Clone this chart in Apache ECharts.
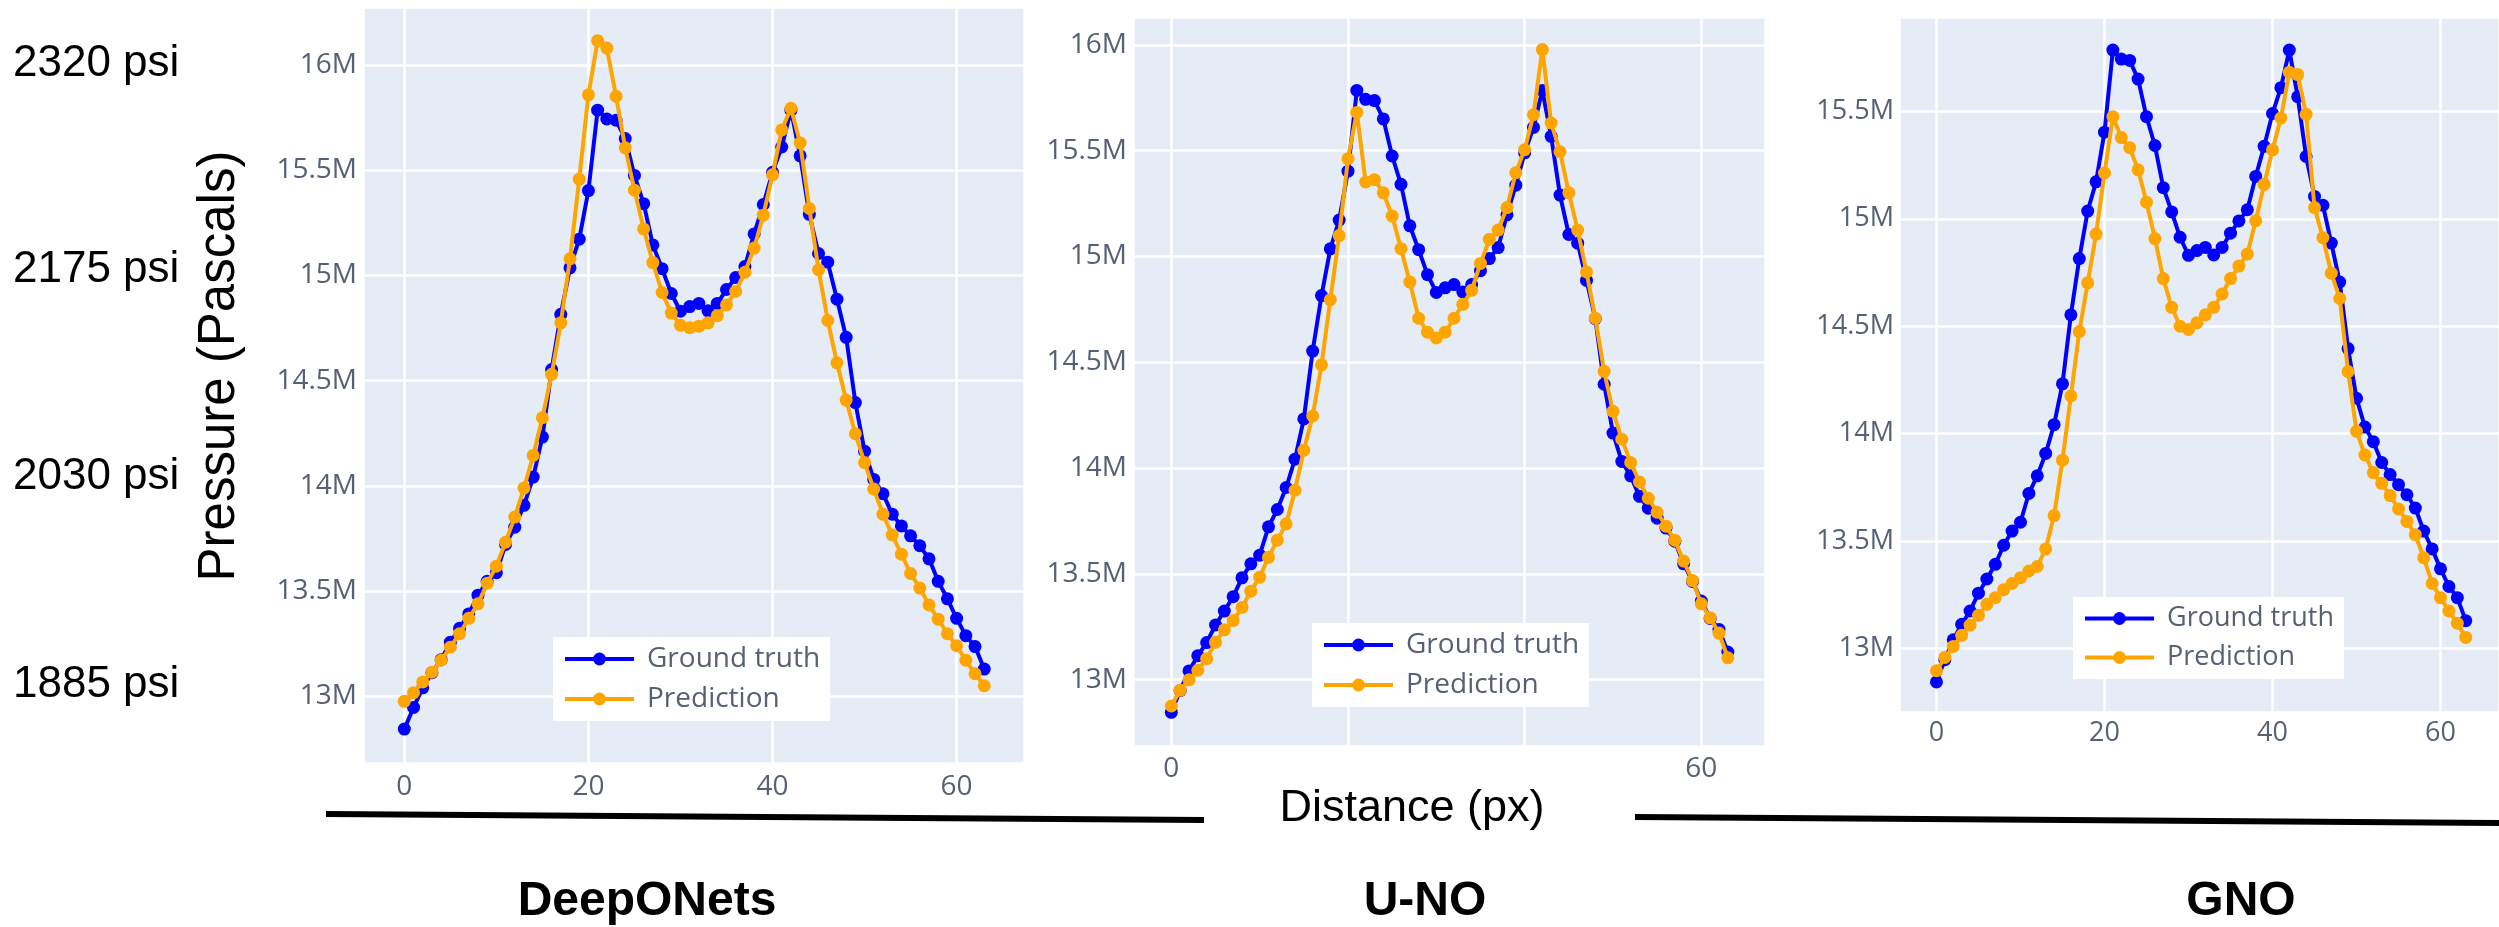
<!DOCTYPE html>
<html><head><meta charset="utf-8">
<script src="https://cdn.jsdelivr.net/npm/echarts@6/dist/echarts.min.js"></script>
<style>html,body{margin:0;padding:0;background:#fff}#c{width:2499px;height:927px}</style>
</head><body><div id="c"></div>
<script>
// ---- data (pressure in millions of Pascals) ----
const distance = [0,1,2,3,4,5,6,7,8,9,10,11,12,13,14,15,16,17,18,19,20,21,22,23,24,25,26,27,28,29,30,31,32,33,34,35,36,37,38,39,40,41,42,43,44,45,46,47,48,49,50,51,52,53,54,55,56,57,58,59,60,61,62,63];
const groundTruth = [12.845,12.948,13.041,13.113,13.175,13.258,13.324,13.392,13.481,13.547,13.588,13.722,13.804,13.908,14.042,14.232,14.553,14.815,15.036,15.172,15.403,15.785,15.743,15.737,15.65,15.475,15.341,15.145,15.032,14.914,14.83,14.852,14.867,14.832,14.867,14.933,14.99,15.042,15.197,15.337,15.49,15.61,15.785,15.568,15.29,15.104,15.063,14.887,14.706,14.396,14.165,14.031,13.963,13.866,13.81,13.763,13.716,13.654,13.547,13.464,13.371,13.289,13.237,13.13];
const predDeepONets = [12.977,13.018,13.069,13.115,13.172,13.234,13.298,13.371,13.44,13.538,13.619,13.733,13.852,13.99,14.145,14.324,14.53,14.775,15.079,15.457,15.858,16.115,16.08,15.851,15.606,15.405,15.221,15.061,14.919,14.821,14.763,14.752,14.759,14.775,14.809,14.86,14.924,15.015,15.13,15.286,15.478,15.691,15.794,15.629,15.318,15.027,14.786,14.585,14.408,14.248,14.111,13.985,13.866,13.767,13.676,13.584,13.515,13.435,13.367,13.298,13.241,13.172,13.108,13.051];
const predUNO = [12.875,12.949,12.999,13.044,13.099,13.176,13.235,13.279,13.341,13.418,13.484,13.578,13.659,13.736,13.895,14.084,14.246,14.488,14.796,15.099,15.462,15.681,15.352,15.363,15.301,15.191,15.037,14.879,14.708,14.642,14.615,14.642,14.708,14.774,14.84,14.967,15.081,15.125,15.231,15.396,15.505,15.67,15.978,15.631,15.495,15.301,15.125,14.927,14.708,14.457,14.268,14.136,14.026,13.934,13.857,13.791,13.725,13.659,13.56,13.468,13.358,13.292,13.22,13.103];
const predGNO = [12.897,12.959,13.01,13.062,13.109,13.155,13.206,13.237,13.274,13.303,13.33,13.361,13.382,13.464,13.619,13.877,14.176,14.475,14.702,14.929,15.213,15.475,15.378,15.331,15.228,15.077,14.908,14.722,14.588,14.5,14.485,14.516,14.553,14.588,14.65,14.722,14.78,14.836,14.991,15.16,15.321,15.469,15.682,15.671,15.486,15.052,14.912,14.747,14.629,14.289,14.011,13.901,13.819,13.769,13.712,13.65,13.592,13.53,13.423,13.303,13.237,13.175,13.118,13.052];
const panelTitles = ['DeepONets', 'U-NO', 'GNO'];
const seriesNames = ['Ground truth', 'Prediction'];
const xTickLabels = [[0,20,40,60],[0,60],[0,20,40,60]];
const psiLabels = ['2320 psi', '2175 psi', '2030 psi', '1885 psi'];
const yAxisTitle = 'Pressure (Pascals)';
const xAxisTitle = 'Distance (px)';

// ---- layout ----
const predictions = [predDeepONets, predUNO, predGNO];
const panels = [
  {left:363, top:7, width:661, height:756, xmin:-4.49, xmax:67.32, ymin:12.684, ymax:16.275, fs:28, lg:{left:553, top:637}, titleX:647, ym:6, xm:10},
  {left:1133, top:17, width:632, height:729, xmin:-4.34, xmax:67.21, ymin:12.686, ymax:16.132, fs:28, lg:{left:1312, top:623}, titleX:1425, ym:6, xm:9},
  {left:1899, top:17, width:600, height:695, xmin:-4.46, xmax:66.96, ymin:12.705, ymax:15.939, fs:27, lg:{left:2073, top:597}, titleX:2241, ym:5, xm:8}
];
const BLUE = '#0000ff', ORANGE = '#ffa500', LABEL = '#566176';

const grid = [], xAxis = [], yAxis = [], series = [], legend = [];
panels.forEach((p, k) => {
  grid.push({left:p.left, top:p.top, width:p.width, height:p.height, show:true,
    backgroundColor:'#e5ecf6', borderWidth:0, containLabel:false, outerBoundsMode:'none'});
  xAxis.push({type:'value', gridIndex:k, min:p.xmin, max:p.xmax, minInterval:20, maxInterval:20, splitNumber:3,
    axisLine:{show:false}, axisTick:{show:false},
    splitLine:{show:true, lineStyle:{color:'#ffffff', width:2.5}},
    axisLabel:{show:true, margin:p.xm, color:LABEL, fontFamily:'Open Sans', fontSize:p.fs,
      showMinLabel:false, showMaxLabel:false,
      formatter:v => xTickLabels[k].some(t => Math.abs(t - v) < 1e-6) ? String(Math.round(v)) : ''}});
  yAxis.push({type:'value', gridIndex:k, min:p.ymin, max:p.ymax, minInterval:0.5, maxInterval:0.5, splitNumber:7,
    axisLine:{show:false}, axisTick:{show:false},
    splitLine:{show:true, lineStyle:{color:'#ffffff', width:2.5}},
    axisLabel:{show:true, margin:p.ym, color:LABEL, fontFamily:'Open Sans', fontSize:p.fs,
      showMinLabel:false, showMaxLabel:false,
      formatter:v => Math.abs(v*2 - Math.round(v*2)) < 1e-6 ? (Math.round(v*10)/10) + 'M' : ''}});
  [groundTruth, predictions[k]].forEach((arr, j) => {
    series.push({name:seriesNames[j], type:'line', xAxisIndex:k, yAxisIndex:k,
      data: distance.map((d, i) => [d, arr[i]]),
      symbol:'circle', symbolSize:13, showSymbol:true,
      lineStyle:{width:4, color: j ? ORANGE : BLUE},
      itemStyle:{color: j ? ORANGE : BLUE},
      emphasis:{disabled:true}, animation:false, z: 2 + j});
  });
  legend.push({data:seriesNames, orient:'vertical', left:p.lg.left, top:p.lg.top,
    backgroundColor:'#ffffff', padding:[8,10,8,10], itemWidth:69, itemHeight:16, itemGap:12,
    selectedMode:false, lineStyle:{width:4},
    textStyle:{fontFamily:'Open Sans', fontSize:p.fs, color:LABEL, padding:[0,0,0,8]}});
});

const graphic = [];
const psiY = [64, 270, 477, 685];
psiLabels.forEach((t, i) => graphic.push({type:'text', x:13, y:psiY[i],
  style:{text:t, font:"44px 'Liberation Sans', Arial, sans-serif", fill:'#000', align:'left', verticalAlign:'middle'}}));
graphic.push({type:'text', x:220, y:366, rotation:Math.PI/2,
  style:{text:yAxisTitle, font:"51px 'Liberation Sans', Arial, sans-serif", fill:'#000', align:'center', verticalAlign:'middle'}});
graphic.push({type:'line', shape:{x1:326, y1:814, x2:1204, y2:820}, style:{stroke:'#000', lineWidth:6}});
graphic.push({type:'line', shape:{x1:1635, y1:817, x2:2499, y2:823}, style:{stroke:'#000', lineWidth:6}});
graphic.push({type:'text', x:1412, y:809,
  style:{text:xAxisTitle, font:"45px 'Liberation Sans', Arial, sans-serif", fill:'#000', align:'center', verticalAlign:'middle'}});
panelTitles.forEach((t, k) => graphic.push({type:'text', x:panels[k].titleX, y:902,
  style:{text:t, font:"bold 48px 'Liberation Sans', Arial, sans-serif", fill:'#000', align:'center', verticalAlign:'middle'}}));

const chart = echarts.init(document.getElementById('c'), null, {renderer:'canvas'});
chart.setOption({animation:false, backgroundColor:'#ffffff', grid, xAxis, yAxis, series, legend, graphic});
</script></body></html>
